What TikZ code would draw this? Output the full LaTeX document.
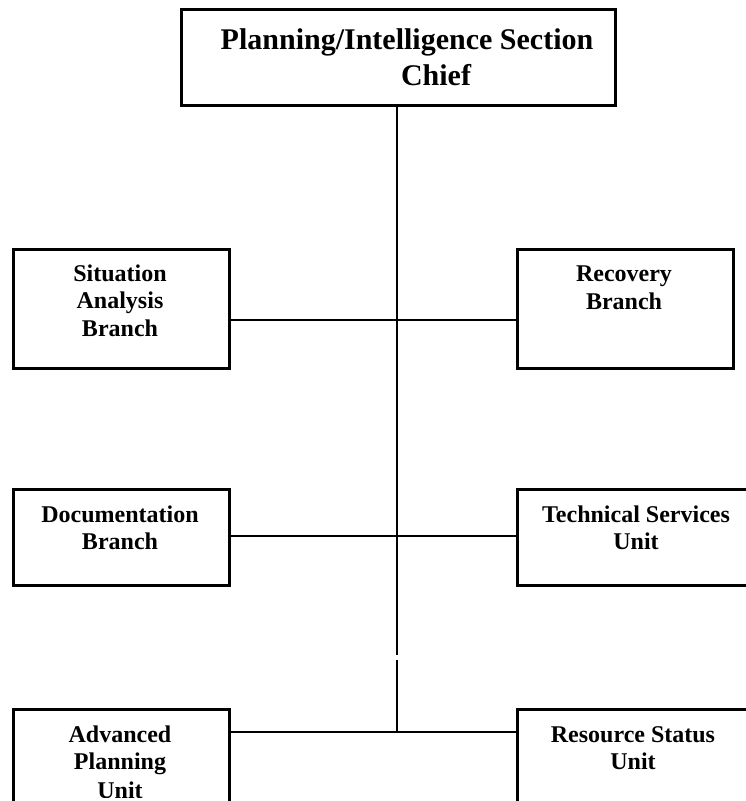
\documentclass[tikz,border=0pt]{standalone}
\usepackage{fontspec}
\setmainfont{Liberation Serif}
\begin{document}
\begin{tikzpicture}[x=1pt,y=-1pt,
  box/.style={draw, line width=2.6pt, rectangle, inner sep=0pt, anchor=north west},
  conn/.style={line width=2.2pt},
  big/.style={font=\fontsize{30}{35}\selectfont\bfseries, anchor=base, inner sep=0pt},
  small/.style={font=\fontsize{24}{27}\selectfont\bfseries, anchor=base, inner sep=0pt}]
\useasboundingbox (0,0) rectangle (746,801);
\begin{scope}
\clip (0,0) rectangle (746,801);
% boxes
\node[box, minimum width=434pt, minimum height=96pt] (chief) at (180,8) {};
\node[box, minimum width=216pt, minimum height=119pt] (sa) at (12,248) {};
\node[box, minimum width=216pt, minimum height=119pt] (rb) at (516,248) {};
\node[box, minimum width=216pt, minimum height=96pt] (doc) at (12,488) {};
\node[box, minimum width=240pt, minimum height=96pt] (tsu) at (516,488) {};
\node[box, minimum width=216pt, minimum height=120pt] (apu) at (12,708) {};
\node[box, minimum width=240pt, minimum height=120pt] (rsu) at (516,708) {};
% spine coordinates
\coordinate (gapT) at (397,655);
\coordinate (gapB) at (397,660);
\coordinate (j1) at (397,320);
\coordinate (j2) at (397,536);
\coordinate (j3) at (397,732);
% connectors
\draw[conn] (chief.south -| gapT) -- (gapT);
\draw[conn] (gapB) -- (j3);
\draw[conn] (j1 -| sa.east) -- (j1 -| rb.west);
\draw[conn] (j2 -| doc.east) -- (j2 -| tsu.west);
\draw[conn] (j3 -| apu.east) -- (j3 -| rsu.west);
% texts
\node[big] (t1) at (407,49) {Planning/Intelligence Section};
\node[big] (t2) at (436,85) {Chief};
\node[small] (sa1) at (120,281) {Situation};
\node[small] (sa2) at (120,308) {Analysis};
\node[small] (sa3) at (120,336) {Branch};
\node[small] (rb1) at (624,281) {Recovery};
\node[small] (rb2) at (624,309) {Branch};
\node[small] (doc1) at (120,522) {Documentation};
\node[small] (doc2) at (120,549) {Branch};
\node[small] (tsu1) at (636,522) {Technical Services};
\node[small] (tsu2) at (636,549) {Unit};
\node[small] (apu1) at (120,742) {Advanced};
\node[small] (apu2) at (120,769) {Planning};
\begin{scope}
\clip (14,710) rectangle (226,797);
\node[small] (apu3) at (120,798) {Unit};
\end{scope}
\node[small] (rsu1) at (633,742) {Resource Status};
\node[small] (rsu2) at (633,769) {Unit};
\end{scope}
\end{tikzpicture}
\end{document}
